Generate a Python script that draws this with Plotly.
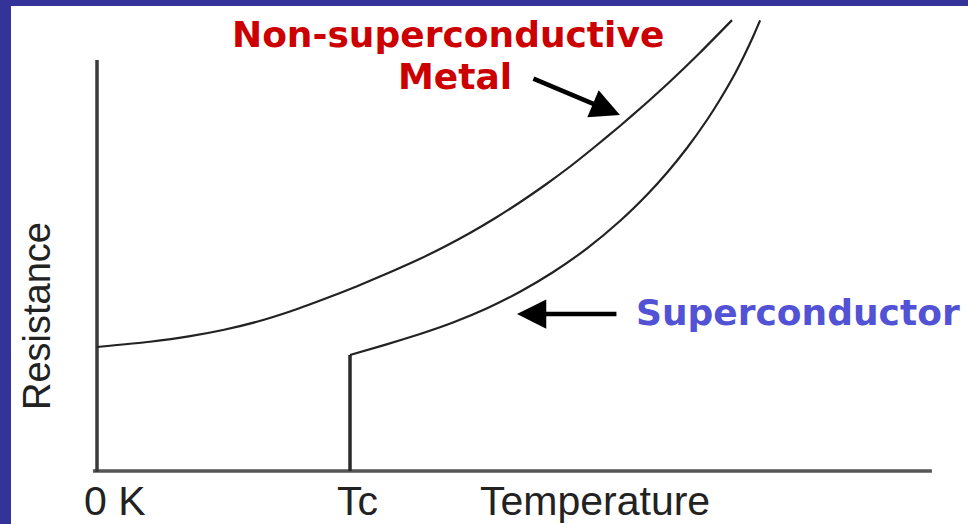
import plotly.graph_objects as go

# Temperature in units of Tc (0 K = 0, Tc = 1); resistance in units of the residual resistance
TC = 1.0
metal_T = [0.0, 0.209, 0.368, 0.498, 0.632, 0.763, 0.893, 1.028, 1.158, 1.277, 1.375, 1.474,
           1.573, 1.672, 1.771, 1.870, 1.968, 2.067, 2.166, 2.265, 2.383, 2.510]
metal_R = [0.992, 1.034, 1.079, 1.128, 1.194, 1.276, 1.372, 1.478, 1.590, 1.698, 1.796, 1.904,
           2.022, 2.150, 2.288, 2.436, 2.594, 2.760, 2.934, 3.116, 3.346, 3.607]
super_T = [1.0, 1.138, 1.277, 1.407, 1.542, 1.672, 1.802, 1.937, 2.067, 2.174, 2.253, 2.332,
           2.411, 2.462, 2.522, 2.561, 2.593, 2.621]
super_R = [0.928, 1.009, 1.096, 1.188, 1.302, 1.434, 1.590, 1.781, 2.000, 2.210, 2.386, 2.584,
           2.808, 2.970, 3.180, 3.336, 3.474, 3.605]
x_axis_T = [-0.016, 3.30]
y_axis_R = [-0.008, 3.288]
tick_vals = [0.0, TC]
tick_text = ["0 K", "Tc"]

fig = go.Figure()
ax_style = dict(mode="lines", hoverinfo="skip", showlegend=False)
# axes
fig.add_trace(go.Scatter(x=x_axis_T, y=[0, 0], line=dict(color="#555555", width=3.5), **ax_style))
fig.add_trace(go.Scatter(x=[0, 0], y=y_axis_R, line=dict(color="#3a3a3a", width=3.5), **ax_style))
# curves
fig.add_trace(go.Scatter(x=metal_T, y=metal_R,
                         line=dict(color="#222222", width=2.2, shape="spline", smoothing=0.5), **ax_style))
fig.add_trace(go.Scatter(x=[TC, TC], y=[0, super_R[0]], line=dict(color="#2a2a2a", width=3.5), **ax_style))
fig.add_trace(go.Scatter(x=super_T, y=super_R,
                         line=dict(color="#222222", width=2.2, shape="spline", smoothing=0.5), **ax_style))

ann = []
lab_font = dict(family="Liberation Sans, Arial, sans-serif", size=41, color="#222222")
offsets = [18, 7]
for v, t, o in zip(tick_vals, tick_text, offsets):
    ann.append(dict(x=v, y=-0.24, text=t, showarrow=False, xanchor="center", yanchor="middle",
                    xshift=o, borderpad=0, font=lab_font))
ann.append(dict(x=1.968, y=-0.24, text="Temperature", showarrow=False, xanchor="center",
                yanchor="middle", borderpad=0, font=lab_font))
ann.append(dict(x=-0.237, y=1.24, text="Resistance", showarrow=False, textangle=-90,
                xanchor="center", yanchor="middle",
                font=dict(family="Liberation Sans, Arial, sans-serif", size=38, color="#222222")))
bold = "DejaVu Sans, Verdana, sans-serif"
ann.append(dict(x=1.389, y=3.496, text="<b>Non-superconductive</b>", showarrow=False,
                xanchor="center", yanchor="middle", font=dict(family=bold, size=36, color="#CC0000")))
ann.append(dict(x=1.415, y=3.16, text="<b>Metal</b>", showarrow=False,
                xanchor="center", yanchor="middle", font=dict(family=bold, size=36, color="#CC0000")))
ann.append(dict(x=2.771, y=1.272, text="<b>Superconductor</b>", showarrow=False,
                xanchor="center", yanchor="middle", font=dict(family=bold, size=36, color="#5252D4")))
# arrows
ann.append(dict(x=2.067, y=2.848, ax=1.719, ay=3.144, axref="x", ayref="y", text="",
                showarrow=True, arrowhead=2, arrowsize=1.3, arrowwidth=4.5, arrowcolor="#000000"))
ann.append(dict(x=1.660, y=1.256, ax=2.059, ay=1.256, axref="x", ayref="y", text="",
                showarrow=True, arrowhead=2, arrowsize=1.3, arrowwidth=4.5, arrowcolor="#000000"))

shapes = [
    dict(type="rect", xref="paper", yref="paper", x0=0, x1=11 / 968, y0=0, y1=1,
         fillcolor="#333399", line=dict(width=0), layer="above"),
    dict(type="rect", xref="paper", yref="paper", x0=0, x1=1, y0=1 - 6 / 524, y1=1,
         fillcolor="#333399", line=dict(width=0), layer="above"),
]

fig.update_layout(
    width=968, height=524, margin=dict(l=0, r=0, t=0, b=0),
    paper_bgcolor="white", plot_bgcolor="white",
    xaxis=dict(range=[-0.3834, 3.4427], visible=False, fixedrange=True),
    yaxis=dict(range=[-0.424, 3.768], visible=False, fixedrange=True),
    annotations=ann, shapes=shapes, showlegend=False,
)
fig.write_html("out.html", config={"displayModeBar": False},
               post_script="document.body.style.margin='0';document.body.style.overflow='hidden';")
